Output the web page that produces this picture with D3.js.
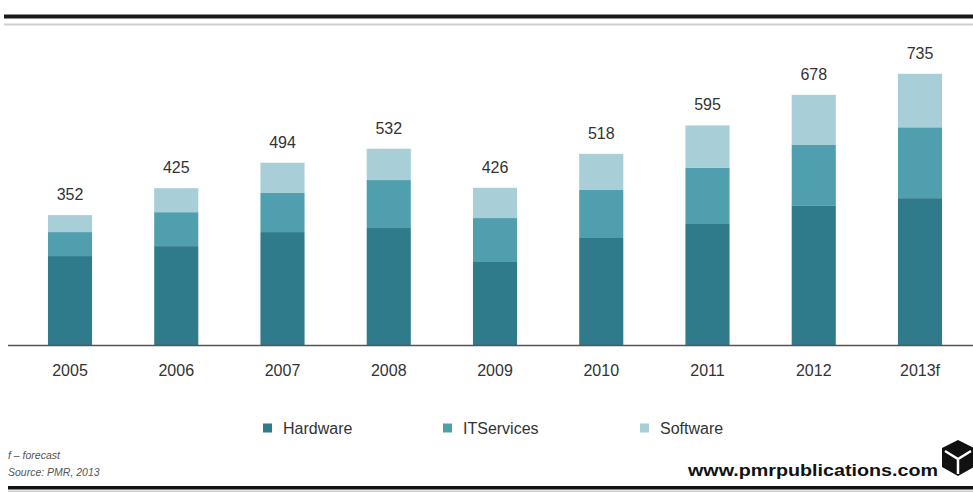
<!DOCTYPE html>
<html>
<head>
<meta charset="utf-8">
<script src="https://cdn.jsdelivr.net/npm/d3@7"></script>
<style>
  html, body { margin: 0; padding: 0; background: #fff; }
  svg { display: block; }
  text { font-family: "Liberation Sans", Arial, sans-serif; }
</style>
</head>
<body>
<svg id="chart" width="973" height="493"></svg>
<script>
const years = ["2005", "2006", "2007", "2008", "2009", "2010", "2011", "2012", "2013f"];
const hardware   = [241, 268, 306, 317, 225, 290, 328, 377, 398];
const itServices = [65, 92, 106, 130, 119, 130, 152, 165, 192];
const software   = [46, 65, 82, 85, 82, 98, 115, 136, 145];
const totals     = [352, 425, 494, 532, 426, 518, 595, 678, 735];
const seriesNames = ["Hardware", "ITServices", "Software"];
const colors = ["#2f7a8b", "#4f9fae", "#a8ced7"];

const svg = d3.select("#chart");
const W = 973, H = 493;

const rows = years.map((y, i) => ({ year: y, Hardware: hardware[i], ITServices: itServices[i], Software: software[i], total: totals[i] }));
const stack = d3.stack().keys(seriesNames)(rows);

const x = d3.scaleBand().domain(years).range([16.875, 973.125]).paddingInner(0.585).paddingOuter(0.2925);
const y = d3.scaleLinear().domain([0, 800]).range([345, 345 - 0.369 * 800]);
const color = d3.scaleOrdinal().domain(seriesNames).range(colors);

// top rules
svg.append("rect").attr("x", 4).attr("y", 14.5).attr("width", W - 4).attr("height", 4).attr("fill", "#1a1a1a");
svg.append("rect").attr("x", 4).attr("y", 23.5).attr("width", W - 4).attr("height", 2).attr("fill", "#cfcfcf");

// bars
svg.append("g").selectAll("g").data(stack).join("g")
  .attr("fill", d => color(d.key))
  .selectAll("rect").data(d => d).join("rect")
  .attr("x", d => x(d.data.year))
  .attr("y", d => y(d[1]))
  .attr("width", x.bandwidth())
  .attr("height", d => y(d[0]) - y(d[1]));

// total labels
svg.append("g").selectAll("text").data(rows).join("text")
  .attr("x", d => x(d.year) + x.bandwidth() / 2)
  .attr("y", d => y(d.total) - 15)
  .attr("text-anchor", "middle")
  .attr("font-size", 16)
  .attr("fill", "#333")
  .text(d => d.total);

// x axis
const xAxis = svg.append("g").attr("transform", `translate(0,${y(0)})`)
  .call(d3.axisBottom(x).tickSize(0).tickPadding(20));
xAxis.select(".domain").remove();
xAxis.selectAll("text").attr("font-size", 16).attr("fill", "#333").attr("font-family", "Liberation Sans, Arial, sans-serif");
svg.append("line").attr("x1", 8).attr("x2", W).attr("y1", y(0) + 0.5).attr("y2", y(0) + 0.5)
  .attr("stroke", "#555").attr("stroke-width", 1.5);

// legend
const legendX = [263, 443, 640];
const lg = svg.append("g").selectAll("g").data(seriesNames).join("g")
  .attr("transform", (d, i) => `translate(${legendX[i]},428)`);
lg.append("rect").attr("x", 0).attr("y", -4.5).attr("width", 9).attr("height", 9).attr("fill", d => color(d));
lg.append("text").attr("x", 20).attr("y", 5.5).attr("font-size", 16).attr("fill", "#333").text(d => d);

// footer notes
svg.append("text").attr("x", 8).attr("y", 459).attr("font-size", 10.5).attr("font-style", "italic")
  .attr("fill", "#555").attr("font-family", "Open Sans, sans-serif").text("f – forecast");
svg.append("text").attr("x", 8).attr("y", 476).attr("font-size", 10.5).attr("font-style", "italic")
  .attr("fill", "#555").attr("font-family", "Open Sans, sans-serif").text("Source: PMR, 2013");

// website
svg.append("text").attr("x", 688).attr("y", 476).attr("font-size", 17).attr("font-weight", 900)
  .attr("fill", "#111").attr("font-family", "DejaVu Sans, sans-serif")
  .attr("textLength", 250).attr("lengthAdjust", "spacingAndGlyphs")
  .text("www.pmrpublications.com");

// logo cube
const logo = svg.append("g").attr("transform", "translate(958,458)");
logo.append("path").attr("d", "M0,-18 L16,-10 L16,9 L0,18 L-16,9 L-16,-10 Z").attr("fill", "#111");
logo.append("path").attr("d", "M-13,-7 L0,1 L13,-7 M0,1 L0,16").attr("stroke", "#fff").attr("stroke-width", 2.5).attr("fill", "none");

// bottom rule
svg.append("rect").attr("x", 8).attr("y", 486).attr("width", W - 8).attr("height", 3.5).attr("fill", "#111");
svg.append("rect").attr("x", 8).attr("y", 490.5).attr("width", W - 8).attr("height", 1.5).attr("fill", "#ccc");
</script>
</body>
</html>
